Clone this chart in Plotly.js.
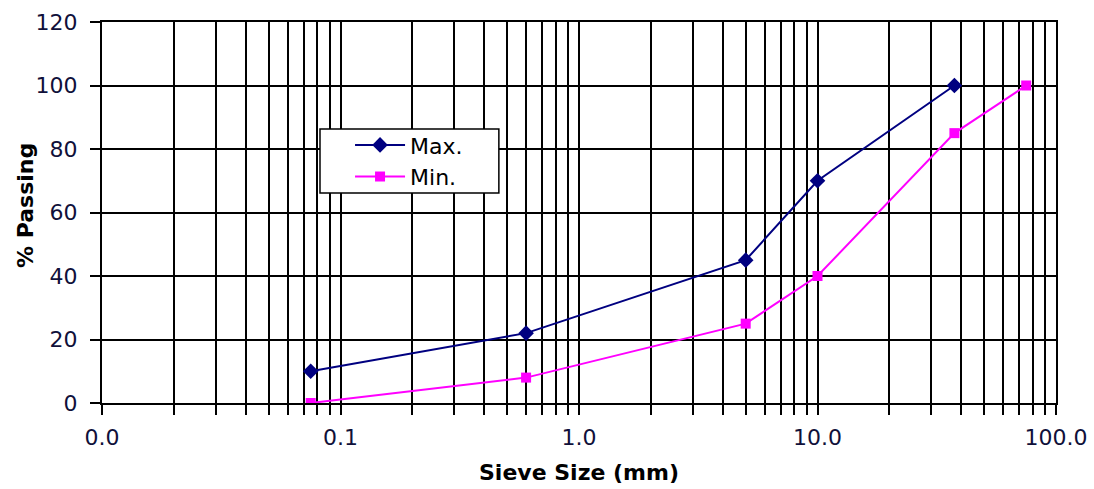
<!DOCTYPE html>
<html>
<head>
<meta charset="utf-8">
<script src="https://cdn.plot.ly/plotly-3.0.1.min.js"></script>
<style>html,body{margin:0;padding:0;background:#fff;}#chart{width:1094px;height:489px;}</style>
</head>
<body>
<div id="chart"></div>
<script>
const maxSieve = [0.075, 0.6, 5, 10, 37.5];
const maxPassing = [10, 22, 45, 70, 100];
const minSieve = [0.075, 0.6, 5, 10, 37.5, 75];
const minPassing = [0, 8, 25, 40, 85, 100];
const xTickVals = [0.01,0.02,0.03,0.04,0.05,0.06,0.07,0.08,0.09,
  0.1,0.2,0.3,0.4,0.5,0.6,0.7,0.8,0.9,
  1,2,3,4,5,6,7,8,9,
  10,20,30,40,50,60,70,80,90,100];
const xTickText = ["0.0","","","","","","","","",
  "0.1","","","","","","","","",
  "1.0","","","","","","","","",
  "10.0","","","","","","","","",
  "100.0"];
const yTickVals = [0, 20, 40, 60, 80, 100, 120];

const traces = [
  {x: maxSieve, y: maxPassing, name: 'Max.', mode: 'lines+markers', type: 'scatter',
   line: {color: '#000080', width: 2}, marker: {symbol: 'diamond', size: 12, color: '#000080'}},
  {x: minSieve, y: minPassing, name: 'Min.', mode: 'lines+markers', type: 'scatter',
   line: {color: '#FF00FF', width: 2}, marker: {symbol: 'square', size: 10, color: '#FF00FF'}}
];

const layout = {
  width: 1094, height: 489,
  margin: {l: 102, r: 38, t: 22, b: 86},
  paper_bgcolor: '#fff', plot_bgcolor: '#fff',
  font: {family: 'DejaVu Sans, sans-serif', color: '#000', size: 22},
  showlegend: true,
  legend: {x: 0.26, y: 0.732, xanchor: 'left', yanchor: 'top', borderwidth: 0,
    bgcolor: 'rgba(0,0,0,0)', font: {size: 22, color: '#000'}, itemwidth: 50, tracegroupgap: 0},
  shapes: [
    {type: 'rect', xref: 'paper', yref: 'paper', x0: 0.2285, x1: 0.416, y0: 0.551, y1: 0.719,
     fillcolor: '#fff', line: {color: '#000', width: 1.5}, layer: 'above'}
  ],
  annotations: [
    {text: '<b>% Passing</b>', xref: 'paper', yref: 'paper', x: -0.0807, y: 0.517,
     xanchor: 'center', yanchor: 'middle', textangle: -90, showarrow: false,
     font: {size: 22, color: '#000'}}
  ],
  xaxis: {
    type: 'log', range: [-2, 2],
    tickmode: 'array', tickvals: xTickVals, ticktext: xTickText,
    ticks: 'outside', ticklen: 10, tickwidth: 2, tickcolor: '#000',
    showgrid: true, gridcolor: '#000', gridwidth: 2,
    showline: true, linecolor: '#000', linewidth: 2, mirror: true,
    zeroline: false, ticklabelstandoff: 4,
    tickfont: {size: 22, color: '#10103a'},
    title: {text: '<b>Sieve Size (mm)</b>', font: {size: 22}, standoff: 15}
  },
  yaxis: {
    range: [0, 120], tickmode: 'array', tickvals: yTickVals,
    ticks: 'outside', ticklen: 10, tickwidth: 2, tickcolor: '#000',
    showgrid: true, gridcolor: '#000', gridwidth: 2,
    showline: true, linecolor: '#000', linewidth: 2, mirror: true,
    zeroline: false, ticklabelstandoff: 8,
    tickfont: {size: 22, color: '#10103a'}
  }
};
Plotly.newPlot('chart', traces, layout, {displayModeBar: false, staticPlot: true});
</script>
</body>
</html>
